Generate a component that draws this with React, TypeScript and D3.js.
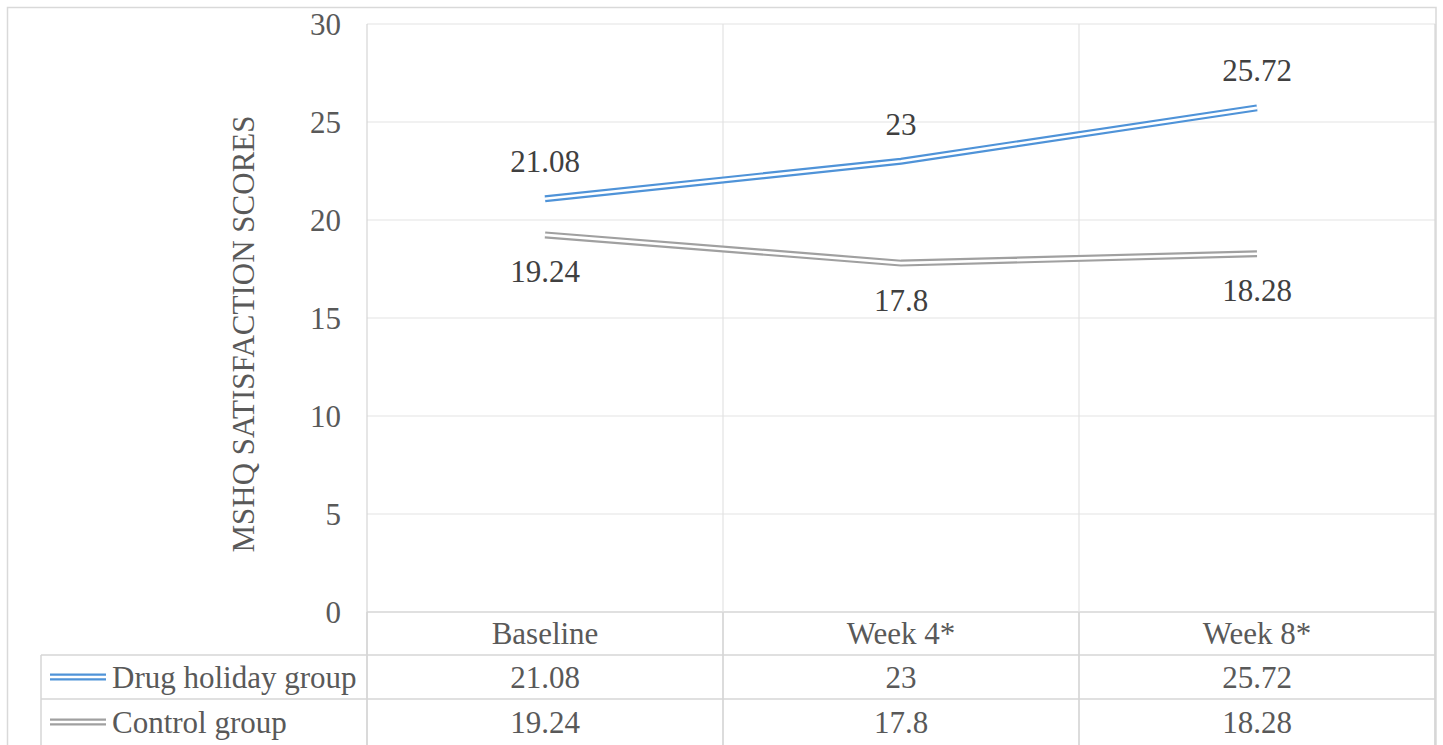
import React from "react";
import * as d3 from "d3";

const categories = ["Baseline", "Week 4*", "Week 8*"];
const drugHoliday = [21.08, 23, 25.72];
const control = [19.24, 17.8, 18.28];
const seriesNames = ["Drug holiday group", "Control group"];
const seriesColors = ["#4F93D8", "#A0A0A0"];
const yTicks = [0, 5, 10, 15, 20, 25, 30];
const yTitle = "MSHQ SATISFACTION SCORES";

const W = 1443;
const H = 745;
const FONT = '"Liberation Serif"';

export default function App() {
  const plotLeft = 367;
  const plotRight = 1435;
  const plotTop = 24;
  const plotBottom = 612;
  const tableLeft = 41;
  const rowBounds = [612, 655, 699, 745];

  const x = d3.scaleBand<string>().domain(categories).range([plotLeft, plotRight]);
  const y = d3.scaleLinear().domain([0, 30]).range([plotBottom, plotTop]);
  const cx = (c: string) => (x(c) as number) + x.bandwidth() / 2;

  const line = d3
    .line<number>()
    .x((_, i) => cx(categories[i]))
    .y((d) => y(d));

  const series = [drugHoliday, control];
  const grid = "#E3E3E3";
  const tableLine = "#D6D6D6";
  const ts = { fontFamily: FONT, fontSize: "31px" } as React.CSSProperties;

  return (
    <svg width={W} height={H} style={{ position: "absolute", left: 0, top: 0, background: "#fff" }}>
      <rect x={0} y={0} width={W} height={H} fill="#fff" />
      <rect x={7.5} y={7.5} width={1428.5} height={H} fill="none" stroke="#D9D9D9" strokeWidth={1.5} />

      {yTicks.map((t) => (
        <line
          key={"g" + t}
          x1={plotLeft}
          x2={plotRight}
          y1={y(t)}
          y2={y(t)}
          stroke={t === 0 ? tableLine : grid}
          strokeWidth={t === 0 ? 1.5 : 1.2}
        />
      ))}
      {[...categories.map((c) => x(c) as number), plotRight].map((xv, i) => (
        <line
          key={"v" + i}
          x1={xv}
          x2={xv}
          y1={plotTop}
          y2={H}
          stroke={i === 0 || i === categories.length ? tableLine : grid}
          strokeWidth={1.2}
        />
      ))}
      {[...categories.map((c) => x(c) as number), plotRight].map((xv, i) => (
        <line key={"tv" + i} x1={xv} x2={xv} y1={plotBottom} y2={H} stroke={tableLine} strokeWidth={1.5} />
      ))}
      {rowBounds.slice(1, 3).map((yy, i) => (
        <line key={"th" + i} x1={tableLeft} x2={plotRight} y1={yy} y2={yy} stroke={tableLine} strokeWidth={1.5} />
      ))}
      <line x1={tableLeft} x2={tableLeft} y1={rowBounds[1]} y2={H} stroke={tableLine} strokeWidth={1.5} />

      {series.map((vals, si) => (
        <g key={"s" + si}>
          <path d={line(vals) || ""} fill="none" stroke={seriesColors[si]} strokeWidth={7} strokeLinejoin="miter" />
          <path d={line(vals) || ""} fill="none" stroke="#fff" strokeWidth={2.6} strokeLinejoin="miter" />
        </g>
      ))}

      {yTicks.map((t) => (
        <text key={"t" + t} x={341} y={y(t)} textAnchor="end" dominantBaseline="central" style={ts} fill="#595959">
          {t}
        </text>
      ))}

      <text
        transform={`translate(243, ${(plotTop + plotBottom) / 2 + 16}) rotate(-90)`}
        textAnchor="middle"
        dominantBaseline="central"
        style={ts}
        fill="#595959"
      >
        {yTitle}
      </text>

      {series.map((vals, si) =>
        vals.map((v, i) => (
          <text
            key={"dl" + si + "-" + i}
            x={cx(categories[i])}
            y={y(v) + (si === 0 ? -37 : 37)}
            textAnchor="middle"
            dominantBaseline="central"
            style={ts}
            fill="#404040"
          >
            {String(v)}
          </text>
        ))
      )}

      {categories.map((c) => (
        <text
          key={"h" + c}
          x={cx(c)}
          y={(rowBounds[0] + rowBounds[1]) / 2}
          textAnchor="middle"
          dominantBaseline="central"
          style={ts}
          fill="#595959"
        >
          {c}
        </text>
      ))}

      {series.map((vals, si) => {
        const ym = (rowBounds[si + 1] + rowBounds[si + 2]) / 2;
        return (
          <g key={"r" + si}>
            <line x1={50} x2={106} y1={ym} y2={ym} stroke={seriesColors[si]} strokeWidth={7} />
            <line x1={50} x2={106} y1={ym} y2={ym} stroke="#fff" strokeWidth={2.6} />
            <text x={112} y={ym} dominantBaseline="central" style={ts} fill="#595959">
              {seriesNames[si]}
            </text>
            {vals.map((v, i) => (
              <text
                key={"c" + i}
                x={cx(categories[i])}
                y={ym}
                textAnchor="middle"
                dominantBaseline="central"
                style={ts}
                fill="#595959"
              >
                {String(v)}
              </text>
            ))}
          </g>
        );
      })}
    </svg>
  );
}
